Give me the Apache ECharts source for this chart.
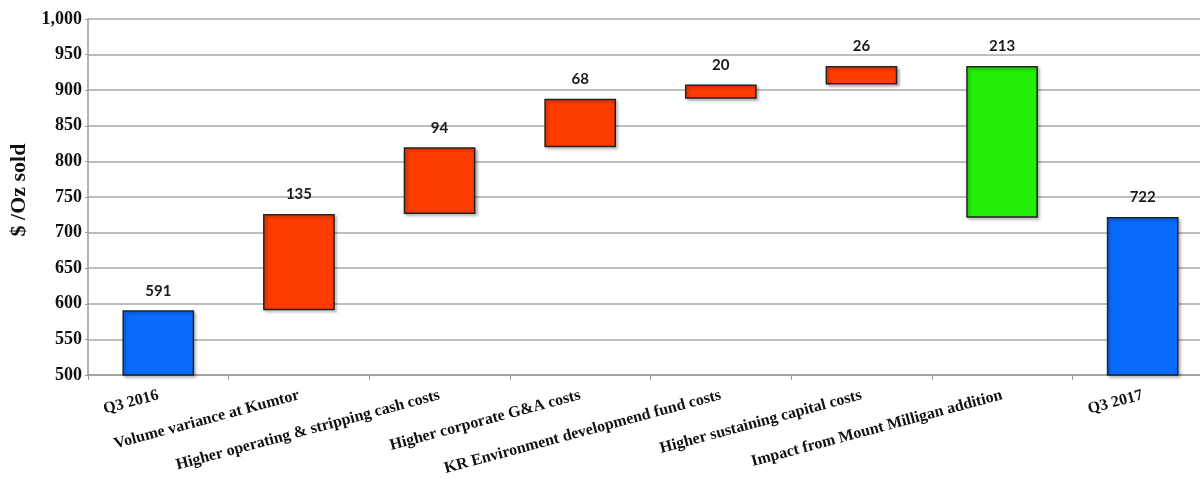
<!DOCTYPE html>
<html>
<head>
<meta charset="utf-8">
<script src="https://cdn.jsdelivr.net/npm/echarts@6/dist/echarts.min.js"></script>
<style>
  html, body { margin: 0; padding: 0; background: #ffffff; overflow: hidden; }
  /* the plot runs slightly past the right edge of the window */
  #chart { width: 1213px; height: 480px; }
</style>
</head>
<body>
<div id="chart"></div>
<script>
// Cash cost bridge, Q3 2016 to Q3 2017 ($/oz sold)
const categories = [
  'Q3 2016',
  'Volume variance at Kumtor',
  'Higher operating & stripping cash costs',
  'Higher corporate G&A costs',
  'KR Environment developmend fund costs',
  'Higher sustaining capital costs',
  'Impact from Mount Milligan addition',
  'Q3 2017'
];
// totals are absolute levels, the rest are changes
const values = [591, 135, 94, 68, 20, 26, -213, 722];
const kinds = ['total', 'up', 'up', 'up', 'up', 'up', 'down', 'total'];
const labels = ['591', '135', '94', '68', '20', '26', '213', '722'];

const colorTotal = '#0a6cff';
const colorUp = '#ff3c00';
const colorDown = '#22ee0a';

// Build invisible bases and visible segments for the waterfall
const bases = [];
const segments = [];
let level = 0;
values.forEach((v, i) => {
  const kind = kinds[i];
  if (kind === 'total') {
    bases.push(0);
    segments.push(v);
    level = v;
  } else if (kind === 'up') {
    bases.push(level);
    segments.push(v);
    level += v;
  } else {
    level += v;
    bases.push(level);
    segments.push(-v);
  }
});

const colorOf = i => kinds[i] === 'total' ? colorTotal : (kinds[i] === 'up' ? colorUp : colorDown);

const chart = echarts.init(document.getElementById('chart'));
chart.setOption({
  animation: false,
  grid: { left: 84, right: 0, top: 19, bottom: 105, containLabel: false },
  xAxis: {
    type: 'category',
    data: categories,
    axisLine: { show: true, lineStyle: { color: '#9a9a9a', width: 1.5 } },
    axisTick: { show: true, length: 5, lineStyle: { color: '#9a9a9a' } },
    axisLabel: {
      interval: 0,
      rotate: 15,
      margin: 20,
      fontFamily: 'Liberation Serif',
      fontWeight: 'bold',
      fontSize: 16,
      color: '#111'
    }
  },
  yAxis: {
    type: 'value',
    min: 500,
    max: 1000,
    interval: 50,
    name: '$ /Oz sold',
    nameLocation: 'middle',
    nameGap: 58,
    nameRotate: 90,
    nameTextStyle: {
      fontFamily: 'Liberation Serif',
      fontWeight: 'bold',
      fontSize: 22,
      color: '#111',
      padding: [0, 0, 0, 14]
    },
    axisLine: { show: true, lineStyle: { color: '#9a9a9a', width: 1.5 } },
    axisTick: { show: true, length: 3, lineStyle: { color: '#9a9a9a' } },
    splitLine: { show: true, lineStyle: { color: '#a8a8a8', width: 1.5 } },
    axisLabel: {
      fontFamily: 'Liberation Serif',
      fontWeight: 'bold',
      fontSize: 18,
      color: '#111',
      margin: 6,
      formatter: v => v.toLocaleString('en-US')
    }
  },
  series: [
    {
      type: 'bar',
      stack: 'w',
      data: bases,
      barWidth: '51%',
      itemStyle: { color: 'transparent' },
      silent: true
    },
    {
      type: 'bar',
      stack: 'w',
      barWidth: '51%',
      data: segments.map((v, i) => ({
        value: v,
        itemStyle: {
          color: colorOf(i),
          borderColor: '#222',
          borderWidth: 1.5,
          shadowBlur: 3,
          shadowOffsetX: 2,
          shadowOffsetY: 2,
          shadowColor: 'rgba(0,0,0,0.3)'
        }
      })),
      label: {
        show: true,
        position: 'top',
        distance: 12,
        fontFamily: 'Lato',
        fontWeight: 'bold',
        fontSize: 15,
        color: '#1a1a1a',
        formatter: p => labels[p.dataIndex]
      }
    }
  ]
});
</script>
</body>
</html>
